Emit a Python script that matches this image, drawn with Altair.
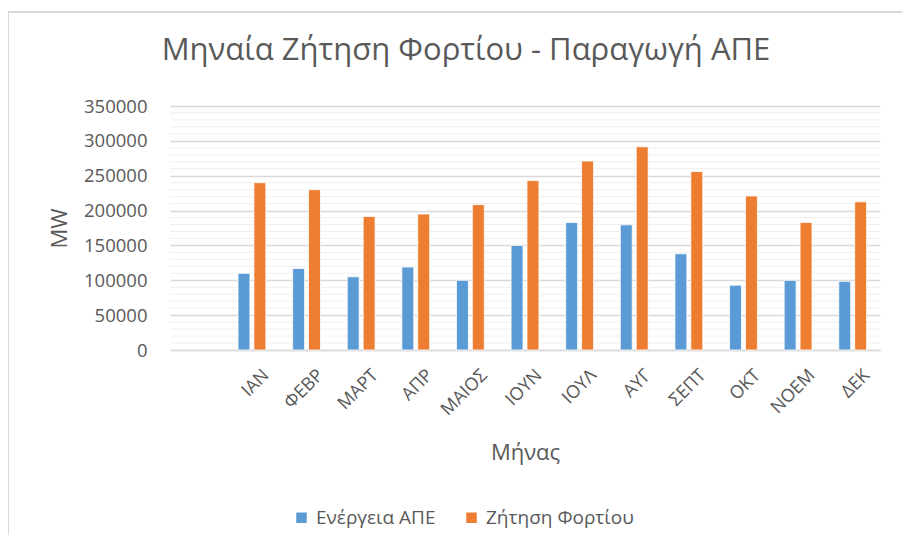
import altair as alt
import pandas as pd

months = ["", "ΙΑΝ", "ΦΕΒΡ", "ΜΑΡΤ", "ΑΠΡ", "ΜΑΙΟΣ", "ΙΟΥΝ", "ΙΟΥΛ", "ΑΥΓ", "ΣΕΠΤ", "ΟΚΤ", "ΝΟΕΜ", "ΔΕΚ"]
res_energy = [None, 110000, 117000, 105000, 119000, 100000, 150000, 183000, 179500, 138000, 93000, 100000, 98500]
load_demand = [None, 240000, 230000, 191500, 195000, 208500, 243000, 271000, 291500, 256000, 221000, 183000, 212500]
series_names = ["Ενέργεια ΑΠΕ", "Ζήτηση Φορτίου"]
series_colors = ["#5B9BD5", "#ED7D31"]
major_ticks = [0, 50000, 100000, 150000, 200000, 250000, 300000, 350000]
minor_ticks = [v for v in range(0, 350001, 10000) if v % 50000 != 0]

rows = []
for m, a, b in zip(months, res_energy, load_demand):
    if a is not None:
        rows.append({"month": m, "series": series_names[0], "value": a})
    if b is not None:
        rows.append({"month": m, "series": series_names[1], "value": b})
df = pd.DataFrame(rows)
minor_df = pd.DataFrame({"value": minor_ticks})

FONT = "Open Sans"
TXT = "#595959"

yscale = alt.Scale(domain=[0, 350000], nice=False)
y_axis = alt.Axis(title="MW", values=major_ticks, format="d", labelFontSize=18.5, labelColor=TXT,
                  labelFont=FONT, titleFont=FONT, titleFontSize=22, titleColor=TXT,
                  titleFontWeight="normal", ticks=False, domain=False,
                  gridColor="#d9d9d9", gridWidth=1.5, labelPadding=23, titlePadding=12)

minor = alt.Chart(minor_df).mark_rule(color="#efefef", strokeWidth=1).encode(
    y=alt.Y("value:Q", scale=yscale, axis=y_axis)
)

bars = alt.Chart(df).mark_bar(stroke="white", strokeWidth=0.8).encode(
    x=alt.X("month:N", sort=months,
            scale=alt.Scale(domain=months, paddingInner=0.49, paddingOuter=0.245),
            axis=alt.Axis(title="Μήνας", labelAngle=315, labelFontSize=18, labelColor=TXT,
                          labelFont=FONT, titleFont=FONT, titleFontSize=22, titleColor=TXT,
                          titleFontWeight="normal", titlePadding=24, ticks=False,
                          domainColor="#d9d9d9", domainWidth=1.5, labelPadding=16,
                          labelOffset=8)),
    xOffset=alt.XOffset("series:N", sort=series_names,
                        scale=alt.Scale(paddingInner=0.25)),
    y=alt.Y("value:Q", scale=yscale, axis=y_axis),
    color=alt.Color("series:N", sort=series_names,
                    scale=alt.Scale(domain=series_names, range=series_colors),
                    legend=alt.Legend(title=None, orient="none", direction="horizontal",
                                      legendX=122, legendY=402, symbolType="square",
                                      symbolSize=110, symbolStrokeWidth=0,
                                      labelFont=FONT, labelFontSize=19, labelColor=TXT,
                                      columnPadding=26, labelOffset=5)),
)

border_left = alt.Chart(df).mark_rule(color="#d9d9d9", strokeWidth=2).encode(
    x=alt.value(-162), y=alt.value(-94), y2=alt.value(600)
)
border_top = alt.Chart(df).mark_rule(color="#d9d9d9", strokeWidth=2).encode(
    x=alt.value(-162), x2=alt.value(900), y=alt.value(-94)
)

chart = alt.layer(minor, bars, border_left, border_top).properties(
    width=710, height=244,
    title=alt.Title("Μηναία Ζήτηση Φορτίου - Παραγωγή ΑΠΕ", font=FONT, fontSize=31,
                    fontWeight="normal", color=TXT, anchor="middle", dx=-59, offset=-56),
    autosize=alt.AutoSizeParams(type="none"),
    padding={"left": 162, "top": 98, "right": 22, "bottom": 185},
).configure(background="white").configure_view(stroke=None)

chart.save("out.html", embed_options={"renderer": "svg", "actions": False})
